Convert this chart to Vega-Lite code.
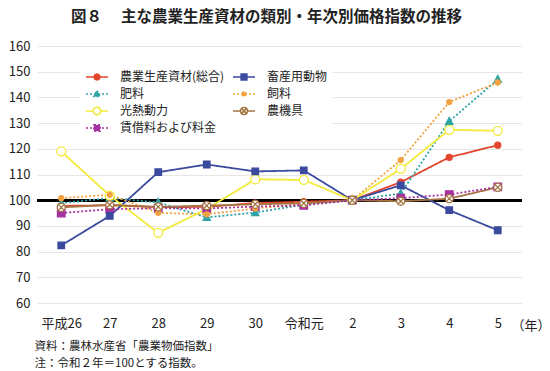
{
  "$schema": "https://vega.github.io/schema/vega-lite/v6.json",
  "width": 485,
  "height": 257,
  "autosize": {"type": "none"},
  "padding": {"left": 37, "top": 46, "right": 28, "bottom": 68},
  "background": "white",
  "config": {
    "font": "Noto Sans CJK JP",
    "view": {"stroke": null},
    "axis": {"labelFont": "Noto Sans CJK JP", "titleFont": "Noto Sans CJK JP", "labelColor": "#222222", "titleColor": "#222222"}
  },
  "title": {
    "text": "図８　 主な農業生産資材の類別・年次別価格指数の推移",
    "fontSize": 15.5,
    "fontWeight": "bold",
    "color": "#222222",
    "anchor": "middle",
    "dx": -13,
    "offset": 15
  },
  "data": {
    "values": [
      {"year": "平成26", "series": "農業生産資材(総合)", "value": 97.8},
      {"year": "27", "series": "農業生産資材(総合)", "value": 98.0},
      {"year": "28", "series": "農業生産資材(総合)", "value": 97.3},
      {"year": "29", "series": "農業生産資材(総合)", "value": 97.4},
      {"year": "30", "series": "農業生産資材(総合)", "value": 98.9},
      {"year": "令和元", "series": "農業生産資材(総合)", "value": 99.4},
      {"year": "2", "series": "農業生産資材(総合)", "value": 100},
      {"year": "3", "series": "農業生産資材(総合)", "value": 107.0},
      {"year": "4", "series": "農業生産資材(総合)", "value": 116.7},
      {"year": "5", "series": "農業生産資材(総合)", "value": 121.4},
      {"year": "平成26", "series": "畜産用動物", "value": 82.4},
      {"year": "27", "series": "畜産用動物", "value": 93.9},
      {"year": "28", "series": "畜産用動物", "value": 110.9},
      {"year": "29", "series": "畜産用動物", "value": 113.9},
      {"year": "30", "series": "畜産用動物", "value": 111.2},
      {"year": "令和元", "series": "畜産用動物", "value": 111.6},
      {"year": "2", "series": "畜産用動物", "value": 100},
      {"year": "3", "series": "畜産用動物", "value": 105.8},
      {"year": "4", "series": "畜産用動物", "value": 96.1},
      {"year": "5", "series": "畜産用動物", "value": 88.3},
      {"year": "平成26", "series": "肥料", "value": 98.8},
      {"year": "27", "series": "肥料", "value": 100.9},
      {"year": "28", "series": "肥料", "value": 99.1},
      {"year": "29", "series": "肥料", "value": 93.3},
      {"year": "30", "series": "肥料", "value": 95.2},
      {"year": "令和元", "series": "肥料", "value": 98.3},
      {"year": "2", "series": "肥料", "value": 100},
      {"year": "3", "series": "肥料", "value": 102.6},
      {"year": "4", "series": "肥料", "value": 130.7},
      {"year": "5", "series": "肥料", "value": 147.0},
      {"year": "平成26", "series": "飼料", "value": 100.8},
      {"year": "27", "series": "飼料", "value": 102.1},
      {"year": "28", "series": "飼料", "value": 95.1},
      {"year": "29", "series": "飼料", "value": 94.5},
      {"year": "30", "series": "飼料", "value": 96.8},
      {"year": "令和元", "series": "飼料", "value": 98.4},
      {"year": "2", "series": "飼料", "value": 100},
      {"year": "3", "series": "飼料", "value": 115.6},
      {"year": "4", "series": "飼料", "value": 138.2},
      {"year": "5", "series": "飼料", "value": 145.8},
      {"year": "平成26", "series": "光熱動力", "value": 119.0},
      {"year": "27", "series": "光熱動力", "value": 101.8},
      {"year": "28", "series": "光熱動力", "value": 87.3},
      {"year": "29", "series": "光熱動力", "value": 96.6},
      {"year": "30", "series": "光熱動力", "value": 108.1},
      {"year": "令和元", "series": "光熱動力", "value": 107.9},
      {"year": "2", "series": "光熱動力", "value": 100},
      {"year": "3", "series": "光熱動力", "value": 112.2},
      {"year": "4", "series": "光熱動力", "value": 127.4},
      {"year": "5", "series": "光熱動力", "value": 127.0},
      {"year": "平成26", "series": "農機具", "value": 97.2},
      {"year": "27", "series": "農機具", "value": 98.2},
      {"year": "28", "series": "農機具", "value": 97.4},
      {"year": "29", "series": "農機具", "value": 97.9},
      {"year": "30", "series": "農機具", "value": 98.4},
      {"year": "令和元", "series": "農機具", "value": 98.8},
      {"year": "2", "series": "農機具", "value": 100},
      {"year": "3", "series": "農機具", "value": 99.6},
      {"year": "4", "series": "農機具", "value": 100.6},
      {"year": "5", "series": "農機具", "value": 105.0},
      {"year": "平成26", "series": "賃借料および料金", "value": 95.0},
      {"year": "27", "series": "賃借料および料金", "value": 96.5},
      {"year": "28", "series": "賃借料および料金", "value": 96.9},
      {"year": "29", "series": "賃借料および料金", "value": 96.8},
      {"year": "30", "series": "賃借料および料金", "value": 97.5},
      {"year": "令和元", "series": "賃借料および料金", "value": 98.0},
      {"year": "2", "series": "賃借料および料金", "value": 100},
      {"year": "3", "series": "賃借料および料金", "value": 100.8},
      {"year": "4", "series": "賃借料および料金", "value": 102.2},
      {"year": "5", "series": "賃借料および料金", "value": 105.2}
    ]
  },
  "encoding": {
    "x": {
      "field": "year",
      "type": "ordinal",
      "sort": ["平成26", "27", "28", "29", "30", "令和元", "2", "3", "4", "5"],
      "scale": {"type": "point", "padding": 0.5},
      "axis": {
        "domain": false,
        "ticks": false,
        "grid": false,
        "labelAngle": 0,
        "labelFontSize": 13,
        "labelPadding": 14,
        "title": ["資料：農林水産省「農業物価指数」", "\u2003注：令和２年＝100とする指数。"],
        "titleFontSize": 11.5,
        "titleFontWeight": "normal",
        "titleAnchor": "start",
        "titleAlign": "left",
        "titleBaseline": "top",
        "titleLineHeight": 17,
        "titleX": -3,
        "titleY": 37
      }
    },
    "y": {
      "field": "value",
      "type": "quantitative",
      "scale": {"domain": [60, 160], "nice": false, "zero": false},
      "axis": {
        "domain": false,
        "ticks": false,
        "grid": true,
        "gridColor": "#e6e6e6",
        "gridWidth": 1,
        "values": [60, 70, 80, 90, 100, 110, 120, 130, 140, 150, 160],
        "labelFontSize": 13,
        "labelPadding": 7,
        "title": "（年）",
        "titleAngle": 0,
        "titleFontSize": 13,
        "titleFontWeight": "normal",
        "titleAlign": "left",
        "titleBaseline": "middle",
        "titleX": 474,
        "titleY": 279
      }
    }
  },
  "layer": [
    {
      "mark": {"type": "rule", "color": "black", "strokeWidth": 2},
      "encoding": {"y": {"datum": 100}, "x": {"value": 0}, "x2": {"value": 485}}
    },
    {
      "mark": {"type": "line", "strokeWidth": 1.8},
      "encoding": {
        "color": {
          "field": "series",
          "type": "nominal",
          "scale": {
            "domain": ["農業生産資材(総合)", "肥料", "光熱動力", "賃借料および料金", "畜産用動物", "飼料", "農機具"],
            "range": ["#e2462c", "#2fa3a6", "#f3ea3a", "#a6329f", "#3b4a9e", "#f2a241", "#a47443"]
          },
          "legend": {
            "title": null,
            "orient": "none",
            "legendX": 43,
            "legendY": 19,
            "columns": 2,
            "columnPadding": 7,
            "rowPadding": 3,
            "clipHeight": 14,
            "padding": 5,
            "fillColor": "white",
            "labelFontSize": 12,
            "labelColor": "#222222",
            "labelOffset": 11,
            "labelLimit": 200,
            "symbolSize": 484,
            "symbolStrokeWidth": 1.6
          }
        },
        "strokeDash": {
          "field": "series",
          "type": "nominal",
          "scale": {
            "domain": ["農業生産資材(総合)", "肥料", "光熱動力", "賃借料および料金", "畜産用動物", "飼料", "農機具"],
            "range": [[1, 0], [2, 2], [1, 0], [2, 2], [1, 0], [2, 2], [1, 0]]
          }
        }
      }
    },
    {
      "transform": [{"filter": "false"}],
      "mark": {"type": "point", "strokeWidth": 1.6, "opacity": 1},
      "encoding": {
        "shape": {
          "field": "series",
          "type": "nominal",
          "scale": {
            "domain": ["農業生産資材(総合)", "肥料", "光熱動力", "賃借料および料金", "畜産用動物", "飼料", "農機具"],
            "range": [
              "M-1,0L1,0M0.26,0A0.26,0.26,0,1,1,-0.26,0A0.26,0.26,0,1,1,0.26,0Z",
              "M-1,0L1,0M0,-0.3L0.28,0.22L-0.28,0.22Z",
              "M-1,0L-0.34,0M0.34,0L1,0M0.34,0A0.34,0.34,0,1,1,-0.34,0A0.34,0.34,0,1,1,0.34,0Z",
              "M-1,0L1,0M-0.28,-0.28L0.28,-0.28L0.28,0.28L-0.28,0.28Z",
              "M-1,0L1,0M-0.26,-0.26L0.26,-0.26L0.26,0.26L-0.26,0.26Z",
              "M-1,0L1,0M0.2,0A0.2,0.2,0,1,1,-0.2,0A0.2,0.2,0,1,1,0.2,0Z",
              "M-1,0L-0.32,0M0.32,0L1,0M0.32,0A0.32,0.32,0,1,1,-0.32,0A0.32,0.32,0,1,1,0.32,0ZM-0.22,-0.22L0.22,0.22M0.22,-0.22L-0.22,0.22"
            ]
          }
        },
        "stroke": {
          "field": "series",
          "type": "nominal",
          "scale": {
            "domain": ["農業生産資材(総合)", "肥料", "光熱動力", "賃借料および料金", "畜産用動物", "飼料", "農機具"],
            "range": ["#e2462c", "#2fa3a6", "#f3ea3a", "#a6329f", "#3b4a9e", "#f2a241", "#a47443"]
          }
        },
        "fill": {
          "field": "series",
          "type": "nominal",
          "scale": {
            "domain": ["農業生産資材(総合)", "肥料", "光熱動力", "賃借料および料金", "畜産用動物", "飼料", "農機具"],
            "range": ["#e2462c", "#2fa3a6", "#ffffff", "#a6329f", "#3b4a9e", "#f2a241", "#ffffff"]
          }
        }
      }
    },
    {
      "transform": [{"filter": {"field": "series", "equal": "農業生産資材(総合)"}}],
      "mark": {"type": "point", "size": 100, "strokeWidth": 1.3, "opacity": 1, "shape": "M0.6,0A0.6,0.6,0,1,1,-0.6,0A0.6,0.6,0,1,1,0.6,0Z", "fill": "#e2462c", "stroke": "#e2462c"}
    },
    {
      "transform": [{"filter": {"field": "series", "equal": "肥料"}}],
      "mark": {"type": "point", "size": 100, "strokeWidth": 1.3, "opacity": 1, "shape": "M0,-0.8L0.72,0.6L-0.72,0.6Z", "fill": "#2fa3a6", "stroke": "#2fa3a6"}
    },
    {
      "transform": [{"filter": {"field": "series", "equal": "光熱動力"}}],
      "mark": {"type": "point", "size": 100, "strokeWidth": 1.3, "opacity": 1, "shape": "M0.9,0A0.9,0.9,0,1,1,-0.9,0A0.9,0.9,0,1,1,0.9,0Z", "fill": "#ffffff", "stroke": "#f3ea3a"}
    },
    {
      "transform": [{"filter": {"field": "series", "equal": "賃借料および料金"}}],
      "mark": {"type": "point", "size": 100, "strokeWidth": 1.3, "opacity": 1, "shape": "M-0.75,-0.75L0.75,-0.75L0.75,0.75L-0.75,0.75Z", "fill": "#a6329f", "stroke": "#a6329f"}
    },
    {
      "transform": [{"filter": {"field": "series", "equal": "畜産用動物"}}],
      "mark": {"type": "point", "size": 100, "strokeWidth": 1.3, "opacity": 1, "shape": "M-0.65,-0.65L0.65,-0.65L0.65,0.65L-0.65,0.65Z", "fill": "#3b4a9e", "stroke": "#3b4a9e"}
    },
    {
      "transform": [{"filter": {"field": "series", "equal": "飼料"}}],
      "mark": {"type": "point", "size": 100, "strokeWidth": 1.3, "opacity": 1, "shape": "M0.5,0A0.5,0.5,0,1,1,-0.5,0A0.5,0.5,0,1,1,0.5,0Z", "fill": "#f2a241", "stroke": "#f2a241"}
    },
    {
      "transform": [{"filter": {"field": "series", "equal": "農機具"}}],
      "mark": {"type": "point", "size": 100, "strokeWidth": 1.3, "opacity": 1, "shape": "M0.8,0A0.8,0.8,0,1,1,-0.8,0A0.8,0.8,0,1,1,0.8,0ZM-0.55,-0.55L0.55,0.55M0.55,-0.55L-0.55,0.55", "fill": "#ffffff", "stroke": "#a47443"}
    }
  ]
}
